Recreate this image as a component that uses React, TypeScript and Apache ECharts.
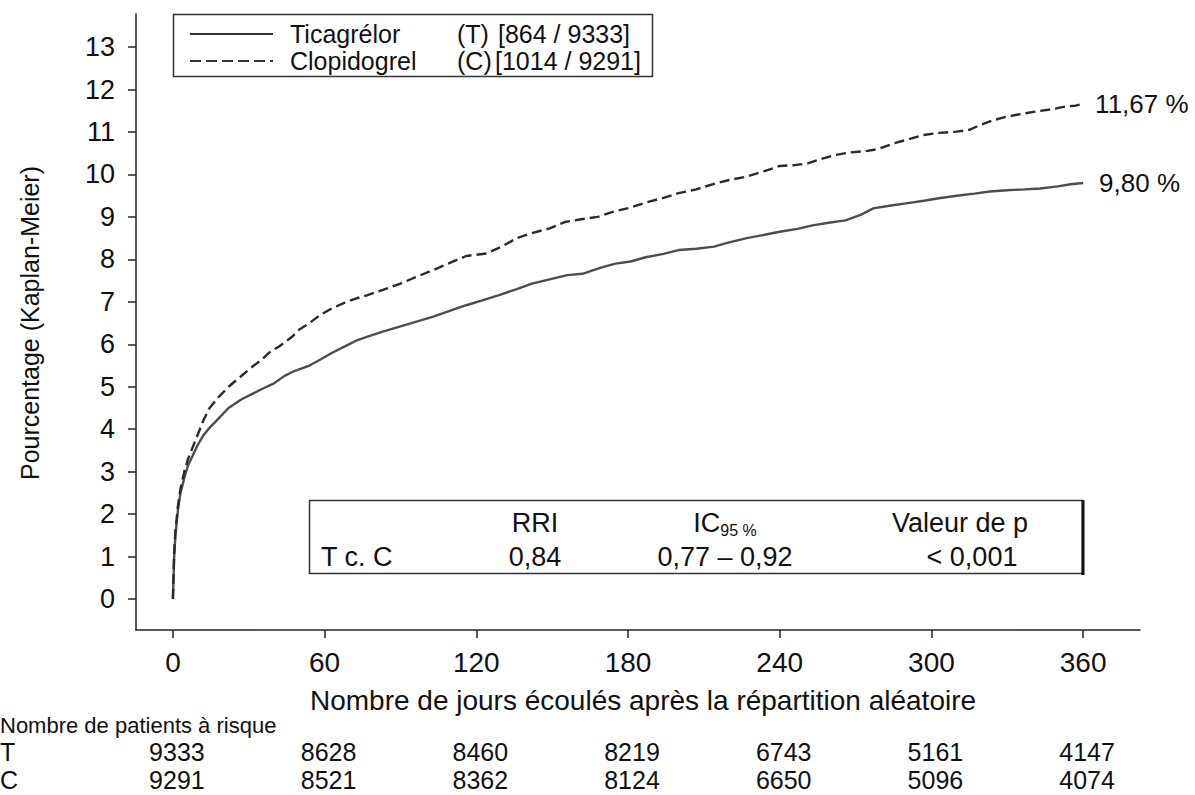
import React, { useEffect, useRef } from "react";
import * as echarts from "echarts";

const FONT = '"Liberation Sans", Arial, Helvetica, sans-serif';

// Axis ticks
const dayTicks = [0, 60, 120, 180, 240, 300, 360];
const pctTicks = [0, 1, 2, 3, 4, 5, 6, 7, 8, 9, 10, 11, 12, 13];

// Kaplan-Meier cumulative incidence (%), [day, percent]
const ticagrelor: [number, number][] = [
  [0, 0], [0.5, 1.0], [1, 1.5], [2, 2.1], [3, 2.5], [4.5, 2.85], [6, 3.15], [8, 3.4],
  [10, 3.65], [12, 3.85], [14, 4.0], [18, 4.25], [22, 4.5], [27, 4.7], [32, 4.85],
  [36, 4.97], [40, 5.08], [44, 5.25], [48, 5.37], [54, 5.5], [58, 5.63], [63, 5.8],
  [68, 5.95], [73, 6.1], [77, 6.18], [83, 6.3], [90, 6.42], [96, 6.53], [103, 6.65],
  [110, 6.8], [116, 6.92], [122, 7.03], [129, 7.16], [136, 7.3], [142, 7.43],
  [149, 7.53], [156, 7.63], [162, 7.66], [169, 7.8], [175, 7.9], [181, 7.95],
  [187, 8.05], [194, 8.13], [200, 8.22], [207, 8.25], [214, 8.3], [220, 8.4],
  [227, 8.5], [234, 8.58], [240, 8.65], [247, 8.72], [253, 8.8], [260, 8.87],
  [266, 8.92], [272, 9.05], [277, 9.2], [284, 9.27], [290, 9.32], [297, 9.38],
  [303, 9.44], [310, 9.5], [317, 9.55], [323, 9.6], [330, 9.63], [337, 9.65],
  [343, 9.67], [350, 9.72], [355, 9.77], [360, 9.8],
];

const clopidogrel: [number, number][] = [
  [0, 0], [0.5, 1.1], [1, 1.6], [2, 2.2], [3, 2.6], [4.5, 3.0], [6, 3.3], [8, 3.6],
  [10, 3.9], [12, 4.2], [14.5, 4.5], [18, 4.75], [22, 5.0], [25, 5.15], [29, 5.35],
  [32, 5.5], [35, 5.63], [38, 5.8], [42, 5.95], [47, 6.17], [50, 6.35], [54, 6.5],
  [58, 6.68], [63, 6.85], [68, 6.98], [72, 7.07], [77, 7.16], [83, 7.28], [90, 7.43],
  [96, 7.58], [103, 7.75], [110, 7.93], [116, 8.08], [124, 8.14], [130, 8.3],
  [136, 8.5], [142, 8.62], [149, 8.73], [155, 8.88], [162, 8.95], [168, 9.0],
  [174, 9.12], [181, 9.22], [187, 9.34], [194, 9.45], [200, 9.56], [207, 9.65],
  [214, 9.78], [220, 9.87], [227, 9.95], [234, 10.08], [240, 10.2], [246, 10.22],
  [251, 10.26], [256, 10.36], [262, 10.46], [268, 10.52], [274, 10.55], [279, 10.6],
  [285, 10.73], [291, 10.83], [297, 10.93], [303, 10.98], [310, 11.01], [315, 11.05],
  [319, 11.16], [324, 11.27], [329, 11.35], [335, 11.42], [341, 11.48], [347, 11.53],
  [353, 11.6], [357, 11.62], [360, 11.67],
];

// Patients at risk at each tick day
const atRiskT = [9333, 8628, 8460, 8219, 6743, 5161, 4147];
const atRiskC = [9291, 8521, 8362, 8124, 6650, 5096, 4074];

const legendRows = [
  { name: "Ticagrélor", arm: "(T)", events: "[864 / 9333]", eventsX: 498, dashed: false },
  { name: "Clopidogrel", arm: "(C)", events: "[1014 / 9291]", eventsX: 495, dashed: true },
];

const hrComparison = "T c. C";
const hrValue = "0,84";
const hrCI = "0,77 – 0,92";
const hrP = "< 0,001";

const fmtPct = (v: number) => v.toFixed(2).replace(".", ",") + " %";

export default function App() {
  const ref = useRef<HTMLDivElement>(null);

  useEffect(() => {
    if (!ref.current) return;
    const chart = echarts.init(ref.current, undefined, { renderer: "svg" });
    const axisColor = "#222";

    chart.setOption({
      animation: false,
      backgroundColor: "#fff",
      grid: { left: 136, right: 55, top: 14, bottom: 165, containLabel: false },
      xAxis: {
        type: "value",
        min: -14.6,
        max: 382.5,
        axisLine: { show: true, onZero: false, lineStyle: { color: axisColor, width: 1.5 } },
        axisTick: { show: true, length: 8, customValues: dayTicks, lineStyle: { color: axisColor, width: 1.5 } },
        axisLabel: {
          customValues: dayTicks,
          fontSize: 28,
          fontFamily: FONT,
          color: "#111",
          margin: 18,
        },
        splitLine: { show: false },
      },
      yAxis: {
        type: "value",
        min: -0.73,
        max: 13.78,
        axisLine: { show: true, onZero: false, lineStyle: { color: axisColor, width: 1.5 } },
        axisTick: { show: true, length: 8, customValues: pctTicks, lineStyle: { color: axisColor, width: 1.5 } },
        axisLabel: {
          customValues: pctTicks,
          fontSize: 27,
          fontFamily: FONT,
          color: "#111",
          margin: 21,
        },
        splitLine: { show: false },
      },
      series: [
        {
          name: "Ticagrélor",
          type: "line",
          data: ticagrelor,
          symbol: "none",
          lineStyle: { color: "#4d4d4d", width: 2.4 },
          endLabel: {
            show: true,
            formatter: (p: any) => fmtPct(p.value[1]),
            fontSize: 26,
            fontFamily: FONT,
            color: "#111",
            distance: 16,
          },
        },
        {
          name: "Clopidogrel",
          type: "line",
          data: clopidogrel,
          symbol: "none",
          lineStyle: { color: "#2a2a2a", width: 2.4, type: [10, 5] },
          endLabel: {
            show: true,
            formatter: (p: any) => fmtPct(p.value[1]),
            fontSize: 26,
            fontFamily: FONT,
            color: "#111",
            distance: 12,
          },
        },
      ],
    });

    const tx = (d: number) => chart.convertToPixel({ xAxisIndex: 0 }, d) as number;
    const textStyle = (extra: any) => ({ fontFamily: FONT, fill: "#111", ...extra });

    const graphics: any[] = [];

    // Legend box
    graphics.push({
      type: "rect",
      shape: { x: 173.5, y: 14.5, width: 479, height: 62 },
      style: { fill: "#fff", stroke: "#333", lineWidth: 1.5 },
      z: 10,
    });
    legendRows.forEach((row, i) => {
      const cy = 34 + i * 27;
      const legendText = (text: string, x: number) => ({
        type: "text",
        x,
        y: cy,
        style: textStyle({ text, fontSize: 25, lineHeight: 24, verticalAlign: "middle", align: "left" }),
        z: 11,
      });
      graphics.push({
        type: "line",
        shape: { x1: 190, y1: cy, x2: 273, y2: cy },
        style: { stroke: "#333", lineWidth: 1.8, lineDash: row.dashed ? [11, 5] : null },
        z: 11,
      });
      graphics.push(legendText(row.name, 290));
      graphics.push(legendText(row.arm, 457));
      graphics.push(legendText(row.events, row.eventsX));
    });

    // Hazard ratio box
    graphics.push({
      type: "rect",
      shape: { x: 309.5, y: 500.5, width: 773, height: 73 },
      style: { fill: "#fff", stroke: "#333", lineWidth: 1.5 },
      z: 10,
    });
    graphics.push({
      type: "line",
      shape: { x1: 1083, y1: 500, x2: 1083, y2: 575 },
      style: { stroke: "#111", lineWidth: 3 },
      z: 11,
    });
    const headY = 523;
    const rowY = 557;
    const boxFont = 27;
    const boxText = (text: string, x: number, y: number, align: string) => ({
      type: "text", x, y,
      style: textStyle({ text, fontSize: boxFont, lineHeight: 30, align, verticalAlign: "middle" }),
      z: 11,
    });
    graphics.push(boxText("RRI", 535, headY, "center"));
    graphics.push({
      type: "text", x: 725, y: headY,
      style: {
        text: "{a|IC}{b|95 %}",
        align: "center",
        verticalAlign: "middle",
        rich: {
          a: { fontFamily: FONT, fontSize: boxFont, fill: "#111", lineHeight: 30, verticalAlign: "middle" },
          b: { fontFamily: FONT, fontSize: 16, fill: "#111", lineHeight: 30, verticalAlign: "bottom" },
        },
      },
      z: 11,
    });
    graphics.push(boxText("Valeur de p", 960, headY, "center"));
    graphics.push(boxText(hrComparison, 321, rowY, "left"));
    graphics.push(boxText(hrValue, 535, rowY, "center"));
    graphics.push(boxText(hrCI, 725, rowY, "center"));
    graphics.push(boxText(hrP, 972, rowY, "center"));

    // Axis titles
    graphics.push({
      type: "text", x: 643, y: 700,
      style: textStyle({ text: "Nombre de jours écoulés après la répartition aléatoire", fontSize: 28, align: "center", verticalAlign: "middle" }),
    });
    graphics.push({
      type: "text", x: 30, y: 323, rotation: Math.PI / 2,
      style: textStyle({ text: "Pourcentage (Kaplan-Meier)", fontSize: 25, align: "center", verticalAlign: "middle" }),
    });

    // Numbers at risk
    graphics.push({
      type: "text", x: 0, y: 725,
      style: textStyle({ text: "Nombre de patients à risque", fontSize: 22, lineHeight: 22, align: "left", verticalAlign: "middle" }),
    });
    const rows: [string, number[], number][] = [["T", atRiskT, 752], ["C", atRiskC, 780]];
    rows.forEach(([lab, vals, y]) => {
      graphics.push({
        type: "text", x: 0, y,
        style: textStyle({ text: lab, fontSize: 25, lineHeight: 25, align: "left", verticalAlign: "middle" }),
      });
      vals.forEach((v, i) => {
        graphics.push({
          type: "text", x: tx(dayTicks[i]) + 4, y,
          style: textStyle({ text: String(v), fontSize: 25, lineHeight: 25, align: "center", verticalAlign: "middle" }),
        });
      });
    });

    chart.setOption({ graphic: graphics });

    return () => chart.dispose();
  }, []);

  return (
    <div
      ref={ref}
      style={{ position: "absolute", left: 0, top: 0, width: 1195, height: 795, background: "#fff" }}
    />
  );
}
